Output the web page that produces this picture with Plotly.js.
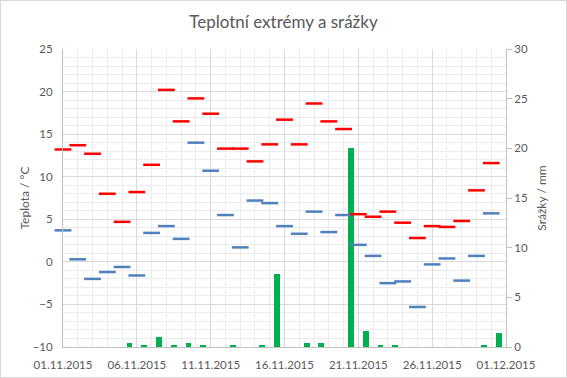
<!DOCTYPE html>
<html>
<head>
<meta charset="utf-8">
<script src="https://cdn.plot.ly/plotly-3.0.1.min.js"></script>
<style>
html,body{margin:0;padding:0;background:#fff;}
#chart{width:567px;height:378px;box-sizing:border-box;border:1px solid #D9D9D9;}
</style>
</head>
<body>
<div id="chart"></div>
<script>
var dates = ['2015-11-01','2015-11-02','2015-11-03','2015-11-04','2015-11-05','2015-11-06','2015-11-07','2015-11-08','2015-11-09','2015-11-10',
             '2015-11-11','2015-11-12','2015-11-13','2015-11-14','2015-11-15','2015-11-16','2015-11-17','2015-11-18','2015-11-19','2015-11-20',
             '2015-11-21','2015-11-22','2015-11-23','2015-11-24','2015-11-25','2015-11-26','2015-11-27','2015-11-28','2015-11-29','2015-11-30'];
var tmax = [13.2, 13.7, 12.7, 8.0, 4.7, 8.2, 11.4, 20.2, 16.5, 19.2,
            17.4, 13.3, 13.3, 11.8, 13.8, 16.7, 13.8, 18.6, 16.5, 15.6,
            5.6, 5.3, 5.9, 4.6, 2.8, 4.2, 4.1, 4.8, 8.4, 11.6];
var tmin = [3.7, 0.3, -2.0, -1.2, -0.6, -1.6, 3.4, 4.2, 2.7, 14.0,
            10.7, 5.5, 1.7, 7.2, 6.9, 4.2, 3.3, 5.9, 3.5, 5.5,
            2.0, 0.7, -2.5, -2.3, -5.3, -0.3, 0.4, -2.2, 0.7, 5.7];
var precip = [0, 0, 0, 0, 0.4, 0.2, 1.0, 0.2, 0.4, 0.2,
              0, 0.2, 0, 0.2, 7.3, 0, 0.4, 0.4, 0, 20.0,
              1.6, 0.2, 0.2, 0, 0, 0, 0, 0, 0.2, 1.4];

var txt = '#595959';
var fontFam = 'Lato, "Open Sans", sans-serif';
var DAY = 86400000;

var traces = [
  {
    type: 'bar', x: dates, y: precip, yaxis: 'y', xaxis: 'x',
    xperiod: DAY, xperiodalignment: 'middle',
    width: 0.4 * DAY,
    marker: {color: '#00B050', line: {width: 0}},
    name: 'Srážky', hoverinfo: 'x+y'
  },
  {
    type: 'scatter', mode: 'markers', x: dates, y: tmin, yaxis: 'y2', xaxis: 'x',
    marker: {symbol: 'line-ew', size: 12, color: '#4F81BD', line: {color: '#4F81BD', width: 2.5}},
    cliponaxis: false, name: 'Min'
  },
  {
    type: 'scatter', mode: 'markers', x: dates, y: tmax, yaxis: 'y2', xaxis: 'x',
    marker: {symbol: 'line-ew', size: 12, color: '#FF0000', line: {color: '#FF0000', width: 2.5}},
    cliponaxis: false, name: 'Max'
  }
];

var layout = {
  width: 565, height: 376,
  margin: {l: 62, r: 60, t: 48, b: 30, pad: 0},
  paper_bgcolor: '#fff', plot_bgcolor: '#fff',
  showlegend: false,
  font: {family: fontFam, color: txt, size: 11},
  title: {text: 'Teplotní extrémy a srážky', font: {family: fontFam, size: 17, color: txt}, x: 0.5, xanchor: 'center', y: 0.945, yanchor: 'middle'},
  bargap: 0,
  xaxis: {
    type: 'date', range: ['2015-11-01', '2015-12-01'],
    tick0: '2015-11-01', dtick: 5 * DAY, tickformat: '%d.%m.%Y',
    showgrid: true, gridcolor: '#D9D9D9', gridwidth: 1,
    minor: {dtick: DAY, showgrid: true, gridcolor: '#EBEBEB', gridwidth: 1, ticks: ''},
    showline: true, linecolor: '#BFBFBF', linewidth: 1,
    ticks: '', zeroline: false, ticklabelstandoff: 7,
    tickfont: {family: fontFam, size: 11.5, color: txt}
  },
  yaxis: {
    side: 'right', range: [0, 30], dtick: 5, tick0: 0,
    showgrid: false, zeroline: false,
    showline: true, linecolor: '#BFBFBF', linewidth: 1,
    ticks: 'outside', ticklen: 5, tickcolor: '#BFBFBF',
    tickfont: {family: fontFam, size: 11.5, color: txt},
    title: {text: 'Srážky / mm', font: {family: fontFam, size: 12, color: txt}, standoff: 10}
  },
  yaxis2: {
    side: 'left', overlaying: 'y', anchor: 'x', range: [-10, 25], dtick: 5, tick0: 0,
    showgrid: true, gridcolor: '#D9D9D9', gridwidth: 1,
    minor: {dtick: 1, showgrid: true, gridcolor: '#EBEBEB', gridwidth: 1, ticks: ''},
    zeroline: false,
    showline: true, linecolor: '#BFBFBF', linewidth: 1,
    ticks: '', ticklabelstandoff: 7,
    tickfont: {family: fontFam, size: 11.5, color: txt},
    title: {text: 'Teplota / °C', font: {family: fontFam, size: 12, color: txt}, standoff: 0}
  }
};

Plotly.newPlot('chart', traces, layout, {displayModeBar: false, staticPlot: true});
</script>
</body>
</html>
